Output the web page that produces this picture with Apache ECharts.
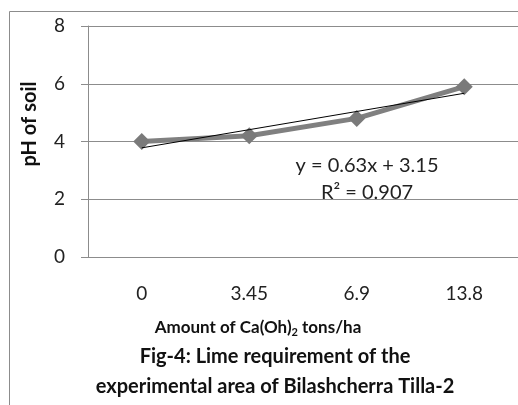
<!DOCTYPE html>
<html>
<head>
<meta charset="utf-8">
<script src="https://cdn.jsdelivr.net/npm/echarts@6/dist/echarts.min.js"></script>
<style>
  html, body { margin: 0; padding: 0; background: #fff; }
  #chart { width: 518px; height: 405px; }
</style>
</head>
<body>
<div id="chart"></div>
<script>
// Lime dose (tons/ha) and measured soil pH
const categories = ['0', '3.45', '6.9', '13.8'];
const phValues = [4.0, 4.2, 4.8, 5.9];
const yTicks = [0, 2, 4, 6, 8];

// Linear trend fitted over the category positions 1..4
const slope = 0.63;
const intercept = 3.15;
const rSquared = 0.907;
const trendValues = categories.map((_, i) => +(slope * (i + 1) + intercept).toFixed(2));

const FONT = 'Lato, "Open Sans", sans-serif';
const chart = echarts.init(document.getElementById('chart'), null, { renderer: 'canvas' });

chart.setOption({
  animation: false,
  backgroundColor: '#fff',
  grid: { left: 88, right: -2, top: 26, bottom: 148 },
  xAxis: {
    type: 'category',
    data: categories,
    boundaryGap: true,
    axisLine: { show: true, lineStyle: { color: '#8c8c8c', width: 1 } },
    axisTick: { show: false },
    axisLabel: { margin: 27, fontSize: 19, color: '#222', fontFamily: FONT }
  },
  yAxis: {
    type: 'value',
    min: yTicks[0],
    max: yTicks[yTicks.length - 1],
    interval: 2,
    axisLine: { show: true, lineStyle: { color: '#8c8c8c', width: 1 } },
    axisTick: { show: true, length: 7, lineStyle: { color: '#8c8c8c' } },
    splitLine: { show: true, lineStyle: { color: '#8c8c8c', width: 1 } },
    axisLabel: { margin: 23, fontSize: 19, color: '#222', fontFamily: FONT }
  },
  series: [
    {
      name: 'pH',
      type: 'line',
      data: phValues,
      symbol: 'diamond',
      symbolSize: 17,
      lineStyle: { color: '#808080', width: 5 },
      itemStyle: { color: '#7a7a7a' },
      z: 2
    },
    {
      name: 'Linear trend',
      type: 'line',
      data: trendValues,
      symbol: 'none',
      lineStyle: { color: '#000', width: 1 },
      z: 3
    }
  ],
  graphic: [
    {
      type: 'rect',
      shape: { x: 9.5, y: 11.5, width: 600, height: 600 },
      style: { fill: 'none', stroke: '#8c8c8c', lineWidth: 1 },
      silent: true
    },
    {
      type: 'text',
      x: 30, y: 124, rotation: Math.PI / 2,
      style: {
        text: 'pH of soil', fontSize: 20, fontWeight: 'bold', fontFamily: FONT,
        fill: '#111', align: 'center', verticalAlign: 'middle'
      }
    },
    {
      type: 'text',
      x: 367, y: 166,
      style: {
        text: 'y = ' + slope + 'x + ' + intercept, fontSize: 20, fontFamily: FONT,
        fill: '#222', align: 'center', verticalAlign: 'middle'
      }
    },
    {
      type: 'text',
      x: 367, y: 193,
      style: {
        text: 'R² = ' + rSquared, fontSize: 20, fontFamily: FONT,
        fill: '#222', align: 'center', verticalAlign: 'middle'
      }
    },
    {
      type: 'text',
      x: 258, y: 328,
      style: {
        rich: {
          t: { fontSize: 17, fontWeight: 'bold', fontFamily: FONT, fill: '#111' },
          s: { fontSize: 11, fontWeight: 'bold', fontFamily: FONT, fill: '#111', padding: [9, 0, 0, 0] }
        },
        text: '{t|Amount of Ca(Oh)}{s|2}{t| tons/ha}',
        align: 'center', verticalAlign: 'middle'
      }
    },
    {
      type: 'text',
      x: 275, y: 357,
      style: {
        text: 'Fig-4: Lime requirement of the', fontSize: 20, fontWeight: 'bold', fontFamily: FONT,
        fill: '#111', align: 'center', verticalAlign: 'middle'
      }
    },
    {
      type: 'text',
      x: 275, y: 387,
      style: {
        text: 'experimental area of Bilashcherra Tilla-2', fontSize: 20, fontWeight: 'bold', fontFamily: FONT,
        fill: '#111', align: 'center', verticalAlign: 'middle'
      }
    }
  ]
});
</script>
</body>
</html>
